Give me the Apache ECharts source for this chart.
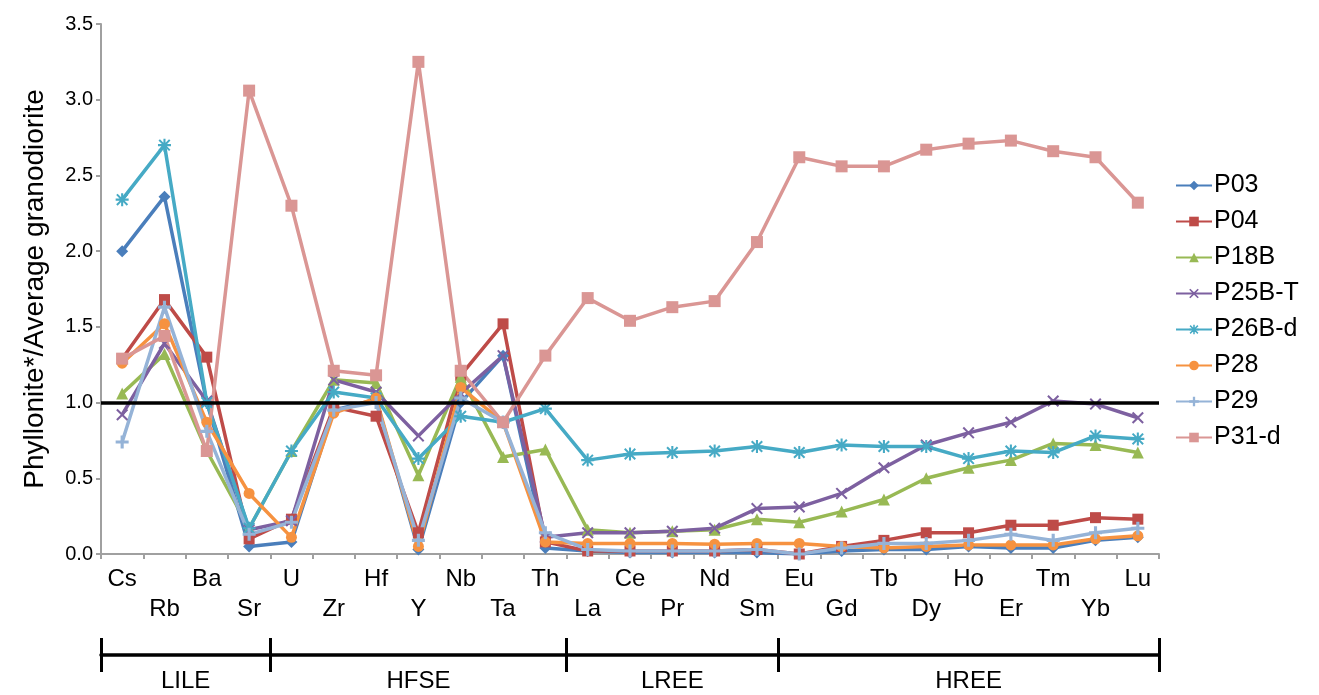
<!DOCTYPE html>
<html>
<head>
<meta charset="utf-8">
<script src="https://cdn.jsdelivr.net/npm/echarts@6/dist/echarts.min.js"></script>
<style>html,body{margin:0;padding:0;background:#fff;}#c{width:1319px;height:695px;}</style>
</head>
<body>
<div id="c"></div>
<script>
var categories = ['Cs','Rb','Ba','Sr','U','Zr','Hf','Y','Nb','Ta','Th','La','Ce','Pr','Nd','Sm','Eu','Gd','Tb','Dy','Ho','Er','Tm','Yb','Lu'];
var P03   = [2.00,2.36,1.00,0.05,0.08,0.95,1.02,0.03,1.00,1.31,0.04,0.02,0.01,0.01,0.01,0.01,0.00,0.02,0.03,0.03,0.05,0.04,0.04,0.09,0.11];
var P04   = [1.29,1.68,1.30,0.10,0.23,0.97,0.91,0.14,1.18,1.52,0.08,0.02,0.02,0.02,0.02,0.03,0.00,0.05,0.09,0.14,0.14,0.19,0.19,0.24,0.23];
var P18B  = [1.06,1.32,0.68,0.17,0.68,1.15,1.13,0.52,1.17,0.64,0.69,0.16,0.14,0.15,0.16,0.23,0.21,0.28,0.36,0.50,0.57,0.62,0.73,0.72,0.67];
var P25BT = [0.92,1.39,1.01,0.16,0.22,1.15,1.07,0.78,1.06,1.31,0.11,0.14,0.14,0.15,0.17,0.30,0.31,0.40,0.57,0.72,0.80,0.87,1.01,0.99,0.90];
var P26Bd = [2.34,2.70,1.00,0.17,0.68,1.07,1.03,0.63,0.91,0.87,0.96,0.62,0.66,0.67,0.68,0.71,0.67,0.72,0.71,0.71,0.63,0.68,0.67,0.78,0.76];
var P28   = [1.26,1.52,0.87,0.40,0.11,0.93,1.03,0.05,1.10,0.87,0.08,0.07,0.07,0.07,0.065,0.07,0.07,0.05,0.04,0.05,0.06,0.06,0.06,0.10,0.12];
var P29   = [0.74,1.63,0.81,0.13,0.21,0.95,1.00,0.09,1.03,0.87,0.14,0.03,0.02,0.02,0.02,0.03,0.00,0.04,0.07,0.07,0.09,0.13,0.09,0.14,0.17];
var P31d  = [1.29,1.44,0.68,3.06,2.30,1.21,1.18,3.25,1.21,0.87,1.31,1.69,1.54,1.63,1.67,2.06,2.62,2.56,2.56,2.67,2.71,2.73,2.66,2.62,2.32];
var seriesNames = ['P03','P04','P18B','P25B-T','P26B-d','P28','P29','P31-d'];
var seriesData = [P03,P04,P18B,P25BT,P26Bd,P28,P29,P31d];
var yTicks = {min:0, max:3.5, interval:0.5};
var groupNames = ['LILE','HFSE','LREE','HREE'];
var groupBounds = [0,4,11,16,25];
var groupCenters = [2,7.5,13.5,20.5];

var colors = ['#4A7EBB','#BE4B48','#98B954','#7D60A0','#46AAC5','#F69240','#95B3D7','#DA9694'];
var plusPath = 'path://M3.8,0 H6.2 V3.8 H10 V6.2 H6.2 V10 H3.8 V6.2 H0 V3.8 H3.8 Z';
var xPath = 'path://M1.2,0 L5,3.8 L8.8,0 L10,1.2 L6.2,5 L10,8.8 L8.8,10 L5,6.2 L1.2,10 L0,8.8 L3.8,5 L0,1.2 Z';
var starPath = 'path://M4.2,0 H5.8 V4.2 H10 V5.8 H5.8 V10 H4.2 V5.8 H0 V4.2 H4.2 Z M1.5,0.4 L5,3.9 L8.5,0.4 L9.6,1.5 L6.1,5 L9.6,8.5 L8.5,9.6 L5,6.1 L1.5,9.6 L0.4,8.5 L3.9,5 L0.4,1.5 Z';
var symbols = ['diamond','rect','triangle',xPath,starPath,'circle',plusPath,'rect'];
var symbolSizes = [12,11,12,12,13,11,13,12];
var FONT = 'Liberation Sans, Arial, sans-serif';

var series = seriesNames.map(function(n,i){
  var s = {
    name:n, type:'line', data:seriesData[i], xAxisIndex:0, yAxisIndex:0,
    symbol:symbols[i], symbolSize:symbolSizes[i], showAllSymbol:true,
    lineStyle:{width:3.5, color:colors[i]},
    itemStyle:{color:colors[i]},
    emphasis:{disabled:true}
  };
  if(i===0){
    s.markLine = {silent:true, symbol:'none', label:{show:false},
      lineStyle:{color:'#000', width:3.5, type:'solid'},
      data:[{yAxis:1}]};
  }
  return s;
});

var chart = echarts.init(document.getElementById('c'), null, {renderer:'canvas'});
chart.setOption({
  animation:false,
  backgroundColor:'#fff',
  color:colors,
  textStyle:{fontFamily:FONT},
  grid:{left:101, right:160, top:24, bottom:141, containLabel:false},
  legend:{
    orient:'vertical', left:1170, top:168, itemGap:11, itemWidth:36, itemHeight:12,
    data:seriesNames,
    textStyle:{fontSize:25, color:'#000', fontFamily:FONT, padding:[0,0,0,-3]}
  },
  xAxis:[{
    type:'category', data:categories, boundaryGap:true,
    axisLine:{lineStyle:{color:'#A0A0A0', width:2}},
    axisTick:{show:true, length:5, lineStyle:{color:'#A0A0A0', width:2}},
    axisLabel:{interval:0, fontSize:24, color:'#000', margin:10, lineHeight:30,
      formatter:function(v){ var i=categories.indexOf(v); return i%2===1 ? '\n'+v : v; }},
    splitLine:{show:false}
  },{
    type:'value', min:0, max:25, position:'bottom', offset:101,
    axisLine:{show:true, lineStyle:{color:'#000', width:3.5}},
    axisTick:{show:true, inside:true, length:17, customValues:groupBounds, lineStyle:{color:'#000', width:3}},
    axisLabel:{show:false},
    splitLine:{show:false}
  },{
    type:'value', min:0, max:25, position:'bottom', offset:101,
    axisLine:{show:false},
    axisTick:{show:true, inside:false, length:17, customValues:groupBounds, lineStyle:{color:'#000', width:3}},
    axisLabel:{show:true, customValues:groupCenters, fontSize:24, color:'#000', margin:14,
      formatter:function(v){ var k=groupCenters.indexOf(v); return k>=0?groupNames[k]:''; }},
    splitLine:{show:false}
  }],
  yAxis:{
    type:'value', min:yTicks.min, max:yTicks.max, interval:yTicks.interval,
    name:'Phyllonite*/Average granodiorite', nameLocation:'middle', nameGap:52,
    nameTextStyle:{fontSize:28, color:'#000', fontFamily:FONT},
    axisLine:{show:true, lineStyle:{color:'#A0A0A0', width:2}},
    axisTick:{show:true, length:5, lineStyle:{color:'#A0A0A0', width:2}},
    axisLabel:{fontSize:20, color:'#000', margin:8, formatter:function(v){return v.toFixed(1);}},
    splitLine:{show:false}
  },
  series:series
});
</script>
</body>
</html>
